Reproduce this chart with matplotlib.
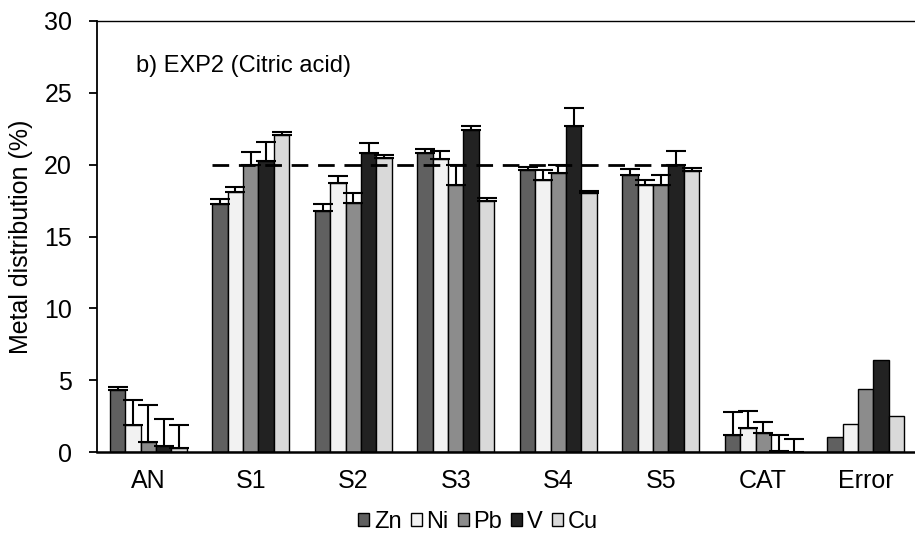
import matplotlib
matplotlib.use('Agg')
import matplotlib.pyplot as plt
import numpy as np

plt.rcParams['font.family'] = ['Liberation Sans', 'DejaVu Sans']

categories = ['AN', 'S1', 'S2', 'S3', 'S4', 'S5', 'CAT', 'Error']
metals = ['Zn', 'Ni', 'Pb', 'V', 'Cu']

# mean values (%) per metal, one per category
zn = [4.35, 17.25, 16.8, 20.8, 19.65, 19.3, 1.15, 1.05]
ni = [1.85, 18.1, 18.75, 20.4, 18.9, 18.55, 1.65, 1.95]
pb = [0.7, 20.0, 17.3, 18.55, 19.45, 18.55, 1.3, 4.4]
v = [0.45, 20.25, 20.8, 22.4, 22.7, 20.0, 0.08, 6.4]
cu = [0.25, 22.05, 20.45, 17.45, 18.0, 19.55, 0.03, 2.5]

# upper error bars (no errors for the "Error" column)
zn_err = [0.15, 0.35, 0.45, 0.3, 0.2, 0.4, 1.6, 0]
ni_err = [1.75, 0.35, 0.45, 0.55, 0.7, 0.35, 1.2, 0]
pb_err = [2.55, 0.85, 0.75, 1.45, 0.55, 0.75, 0.8, 0]
v_err = [1.85, 1.3, 0.7, 0.28, 1.25, 0.95, 1.1, 0]
cu_err = [1.65, 0.23, 0.23, 0.25, 0.2, 0.2, 0.9, 0]

values = [zn, ni, pb, v, cu]
errors = [zn_err, ni_err, pb_err, v_err, cu_err]
colors = ['#606060', '#f2f2f2', '#8c8c8c', '#222222', '#d9d9d9']

fig = plt.figure(figsize=(9.15, 5.44), dpi=100)
ax = fig.add_axes([97/915, 92/544, 820/915, 431/544])

x = np.arange(len(categories))
w = 0.15
for i, (vals, errs, c, m) in enumerate(zip(values, errors, colors, metals)):
    pos = x + (i - 2) * w
    ax.bar(pos, vals, w, color=c, edgecolor='black', linewidth=1.0, label=m, zorder=2)
    errs = np.array(errs)
    mask = errs > 0
    ax.errorbar(pos[mask], np.array(vals)[mask],
                yerr=[np.zeros(mask.sum()), errs[mask]],
                fmt='none', ecolor='black', elinewidth=1.5, capsize=7, capthick=1.5, zorder=3)

# 20 % reference line across S1-S5
ax.plot([0.62, 5.26], [20, 20], color='black', linestyle=(0, (6, 3.5)), linewidth=2, zorder=4)

ax.set_xlim(-0.5, 7.5)
ax.set_ylim(0, 30)
ax.set_yticks(range(0, 31, 5))
ax.set_xticks(x)
ax.set_xticklabels(categories)
ax.tick_params(axis='x', length=0, pad=12, labelsize=18)
ax.tick_params(axis='y', length=6, width=1.3, pad=12, labelsize=18, direction='out')

ax.spines['right'].set_visible(False)
ax.spines['left'].set_linewidth(1.3)
ax.spines['bottom'].set_linewidth(1.8)
ax.spines['top'].set_linewidth(1.0)

ax.set_ylabel('Metal distribution (%)', fontsize=18)
ax.yaxis.set_label_coords(-0.078, 0.5)

ax.text(0.048, 0.895, 'b) EXP2 (Citric acid)', transform=ax.transAxes, fontsize=17, va='center')

fig.legend(loc='center', bbox_to_anchor=(478/915, 1 - 522/544), ncol=5, frameon=False,
           fontsize=17, handlelength=0.45, handleheight=0.45, handletextpad=0.2,
           columnspacing=0.4, borderaxespad=0)

fig.savefig('out.png', dpi=100)
